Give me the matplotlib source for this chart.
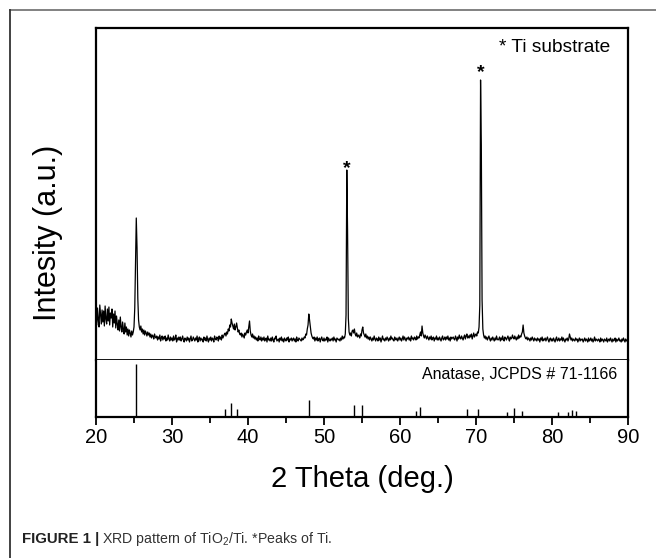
import matplotlib
matplotlib.use("Agg")
import matplotlib.pyplot as plt
from matplotlib.lines import Line2D

plt.rcParams['font.family'] = ['Liberation Sans', 'DejaVu Sans']
plt.rcParams['mathtext.default'] = 'regular'

# ---------------- data ----------------
theta_start = 20.0
theta_step = 0.1
# measured XRD intensity (a.u.), one row per degree: 20.0 ... 20.9, 21.0 ... etc.
intensity_rows = [
    [48, 35, 52, 40, 33, 55, 45, 36, 50, 38],   # 20
    [49, 34, 54, 41, 36, 51, 39, 53, 35, 47],   # 21
    [42, 51, 33, 46, 37, 49, 32, 44, 36, 30],   # 22
    [40, 29, 43, 33, 28, 38, 31, 26, 37, 28],   # 23
    [33, 25, 31, 24, 30, 27, 23, 29, 25, 28],   # 24
    [33, 52, 100, 142, 112, 62, 40, 33, 30, 34],  # 25
    [28, 31, 26, 30, 25, 29, 27, 24, 28, 25],   # 26
    [27, 23, 26, 22, 25, 24, 21, 26, 23, 22],   # 27
    [24, 20, 23, 21, 25, 19, 22, 24, 20, 23],   # 28
    [21, 24, 19, 22, 20, 25, 21, 19, 23, 20],   # 29
    [22, 19, 24, 20, 21, 25, 18, 22, 20, 23],   # 30
    [20, 23, 19, 21, 24, 20, 18, 22, 21, 19],   # 31
    [23, 20, 22, 18, 21, 24, 19, 20, 23, 21],   # 32
    [19, 22, 20, 24, 18, 21, 23, 19, 22, 20],   # 33
    [21, 18, 23, 20, 22, 19, 24, 20, 18, 22],   # 34
    [20, 23, 19, 22, 21, 18, 24, 21, 20, 23],   # 35
    [22, 19, 24, 21, 23, 20, 25, 22, 24, 26],   # 36
    [27, 24, 28, 26, 31, 29, 35, 33, 41, 37],   # 37
    [34, 31, 36, 30, 33, 37, 32, 28, 30, 26],   # 38
    [25, 27, 23, 26, 24, 22, 27, 25, 28, 30],   # 39
    [27, 33, 39, 29, 25, 23, 26, 22, 24, 21],   # 40
    [23, 20, 22, 19, 24, 21, 20, 23, 19, 22],   # 41
    [20, 23, 19, 21, 22, 18, 24, 20, 21, 19],   # 42
    [22, 19, 23, 20, 18, 22, 21, 24, 19, 20],   # 43
    [21, 18, 22, 20, 23, 19, 21, 18, 22, 20],   # 44
    [19, 22, 20, 23, 18, 21, 20, 22, 19, 21],   # 45
    [22, 19, 21, 18, 23, 20, 19, 22, 21, 20],   # 46
    [19, 22, 20, 21, 23, 22, 26, 25, 31, 35],   # 47
    [46, 40, 33, 27, 24, 22, 21, 23, 19, 22],   # 48
    [20, 23, 19, 21, 22, 18, 21, 23, 20, 19],   # 49
    [22, 19, 21, 20, 23, 18, 22, 20, 19, 21],   # 50
    [20, 22, 19, 23, 20, 21, 18, 22, 21, 20],   # 51
    [21, 19, 22, 20, 24, 21, 23, 22, 26, 45],   # 52
    [190, 130, 42, 28, 25, 27, 24, 29, 30, 27],  # 53
    [31, 26, 24, 27, 23, 25, 24, 22, 26, 24],   # 54
    [30, 33, 27, 25, 23, 26, 22, 24, 21, 23],   # 55
    [20, 23, 21, 19, 22, 20, 24, 21, 19, 22],   # 56
    [21, 19, 23, 20, 22, 18, 21, 24, 20, 21],   # 57
    [19, 22, 20, 23, 21, 19, 22, 20, 24, 21],   # 58
    [22, 20, 19, 23, 21, 20, 22, 19, 21, 23],   # 59
    [20, 22, 19, 21, 24, 20, 23, 21, 19, 22],   # 60
    [21, 23, 20, 22, 19, 24, 21, 22, 20, 23],   # 61
    [22, 20, 24, 21, 23, 22, 25, 28, 24, 34],   # 62
    [27, 24, 22, 25, 23, 21, 24, 22, 20, 23],   # 63
    [21, 24, 20, 22, 23, 19, 22, 21, 24, 20],   # 64
    [22, 20, 23, 21, 19, 22, 24, 20, 21, 23],   # 65
    [20, 23, 21, 24, 20, 22, 19, 23, 21, 22],   # 66
    [23, 21, 20, 24, 22, 19, 23, 21, 25, 22],   # 67
    [21, 24, 22, 20, 23, 25, 21, 24, 26, 22],   # 68
    [24, 22, 25, 23, 26, 21, 24, 27, 23, 25],   # 69
    [26, 24, 28, 27, 33, 55, 280, 215, 60, 31],  # 70
    [25, 22, 24, 21, 23, 20, 22, 24, 21, 19],   # 71
    [22, 20, 23, 21, 19, 22, 20, 24, 21, 20],   # 72
    [21, 23, 19, 22, 20, 24, 21, 19, 23, 22],   # 73
    [20, 22, 24, 21, 19, 23, 21, 22, 25, 22],   # 74
    [21, 24, 22, 20, 23, 21, 25, 22, 24, 23],   # 75
    [26, 28, 35, 27, 24, 22, 21, 23, 20, 22],   # 76
    [21, 19, 22, 20, 23, 21, 19, 22, 20, 21],   # 77
    [19, 22, 20, 21, 18, 22, 20, 23, 19, 21],   # 78
    [20, 22, 19, 21, 23, 20, 18, 21, 22, 19],   # 79
    [21, 19, 22, 20, 18, 21, 23, 19, 20, 22],   # 80
    [19, 21, 20, 23, 19, 22, 20, 18, 21, 20],   # 81
    [22, 19, 21, 26, 23, 20, 22, 19, 21, 20],   # 82
    [19, 22, 20, 21, 18, 20, 22, 19, 21, 20],   # 83
    [21, 18, 20, 22, 19, 21, 20, 18, 22, 19],   # 84
    [20, 22, 19, 21, 18, 20, 23, 19, 21, 20],   # 85
    [19, 21, 20, 18, 22, 19, 21, 20, 18, 21],   # 86
    [20, 19, 22, 18, 20, 21, 19, 22, 20, 18],   # 87
    [21, 19, 20, 22, 18, 21, 19, 20, 22, 19],   # 88
    [20, 18, 21, 19, 22, 20, 18, 21, 19, 20],   # 89
    [19],                                       # 90
]

# Ti substrate peaks marked with '*'
ti_peaks = [53.0, 70.6]
ti_star_y = [187, 283]

# Anatase reference pattern, JCPDS # 71-1166
anatase_pos = [25.28, 36.95, 37.80, 38.57, 48.05, 53.89, 55.06, 62.12, 62.69,
               68.76, 70.31, 74.03, 75.03, 76.02, 80.73, 82.14, 82.66, 83.15]
anatase_int = [100, 16, 26, 16, 32, 23, 22, 11, 19,
               15, 15, 10, 17, 11, 10, 9, 13, 11]

x_ticks = [20, 30, 40, 50, 60, 70, 80, 90]
x_minor = [25, 35, 45, 55, 65, 75, 85]

intensity = [v for row in intensity_rows for v in row]
two_theta = [round(theta_start + i * theta_step, 1) for i in range(len(intensity))]

# ---------------- figure ----------------
W, H = 656, 558
fig = plt.figure(figsize=(W / 100, H / 100), dpi=100)

def fx(px):
    return px / W

def fy(py):
    return 1 - py / H

left_px, right_px = 96, 628
top_px, div_px, bot_px = 28, 360, 417

ax_top = fig.add_axes([fx(left_px), fy(div_px), fx(right_px - left_px), (div_px - top_px) / H])
ax_bot = fig.add_axes([fx(left_px), fy(bot_px), fx(right_px - left_px), (bot_px - div_px) / H],
                      sharex=ax_top)

ax_top.plot(two_theta, intensity, color='black', lw=0.9)
ax_top.set_xlim(20, 90)
ax_top.set_ylim(0, div_px - top_px)
ax_top.set_yticks([])
ax_top.tick_params(axis='x', which='both', bottom=False, labelbottom=False)
for s in ['top', 'left', 'right']:
    ax_top.spines[s].set_linewidth(1.6)
ax_top.spines['bottom'].set_linewidth(1.3)

for xp, yp in zip(ti_peaks, ti_star_y):
    ax_top.text(xp, yp, '*', ha='center', va='baseline', fontsize=14, fontweight='bold')
ax_top.text(0.966, 0.942, '* Ti substrate', transform=ax_top.transAxes,
            ha='right', va='center', fontsize=13.8)

ax_bot.vlines(anatase_pos, 0, anatase_int, color='black', lw=1.0)
ax_bot.set_ylim(0, 108.5)
ax_bot.set_yticks([])
ax_bot.spines['top'].set_visible(False)
for s in ['bottom', 'left', 'right']:
    ax_bot.spines[s].set_linewidth(1.6)
ax_bot.set_xticks(x_ticks)
ax_bot.set_xticks(x_minor, minor=True)
ax_bot.tick_params(axis='x', which='major', length=6, width=1.3, labelsize=14.5, pad=2)
ax_bot.tick_params(axis='x', which='minor', length=4, width=1.3)
ax_bot.set_xlabel('2 Theta (deg.)', fontsize=21, labelpad=13)
ax_bot.text(0.979, 0.75, 'Anatase, JCPDS # 71-1166', transform=ax_bot.transAxes,
            ha='right', va='center', fontsize=11.5)

fig.text(fx(48), fy(233), 'Intesity (a.u.)', rotation=90, ha='center', va='center',
         fontsize=22)

# outer border of the figure panel
fig.add_artist(Line2D([fx(10), fx(W + 5)], [fy(10), fy(10)], transform=fig.transFigure,
                      color='#777777', lw=1.3))
fig.add_artist(Line2D([fx(10), fx(10)], [fy(10), fy(H + 5)], transform=fig.transFigure,
                      color='#333333', lw=1.3))

# caption
cap_fam = ['Liberation Sans Narrow', 'Liberation Sans']
t1 = fig.text(fx(22), fy(543), 'FIGURE 1 |', fontsize=10.8, fontweight='bold',
              family=cap_fam, color='#222222', va='baseline')
fig.canvas.draw()
bb = t1.get_window_extent(renderer=fig.canvas.get_renderer())
fig.text(bb.x1 / W + fx(3), fy(543), r'XRD pattern of TiO$_2$/Ti. *Peaks of Ti.',
         fontsize=10.2, family=cap_fam, color='#333333', va='baseline')

fig.savefig('out.png', dpi=100)
